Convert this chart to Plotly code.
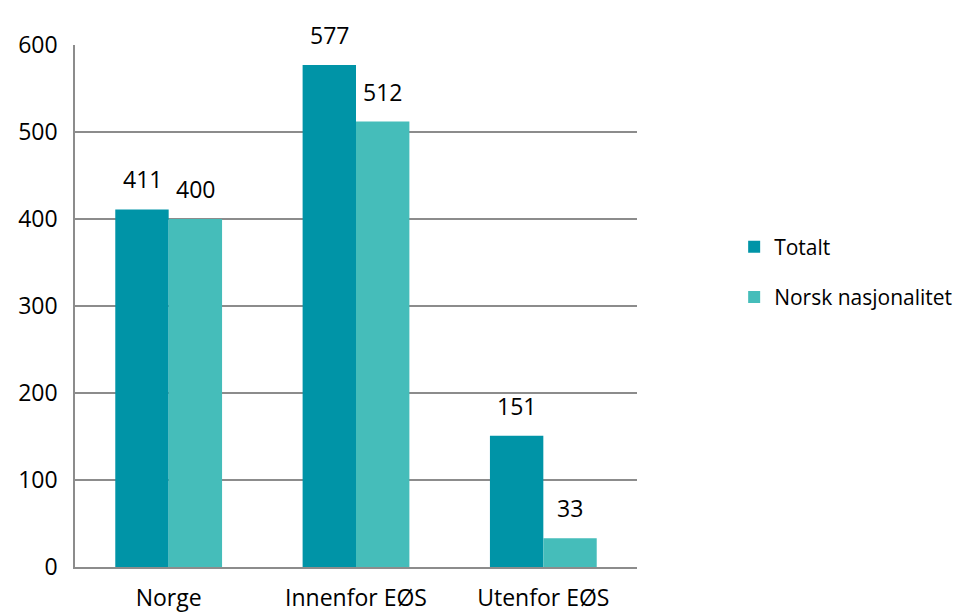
import plotly.graph_objects as go

categories = ["Norge", "Innenfor EØS", "Utenfor EØS"]
totalt = [411, 577, 151]
norsk = [400, 512, 33]
series_names = ["Totalt", "Norsk nasjonalitet"]
y_ticks = [0, 100, 200, 300, 400, 500, 600]

FONT = "'Open Sans', sans-serif"
c1 = "#0094A7"
c2 = "#45BDBA"
FS = 23

fig = go.Figure()
for i, (name, vals, col) in enumerate([(series_names[0], totalt, c1), (series_names[1], norsk, c2)]):
    fig.add_trace(go.Bar(
        x=categories, y=vals, name=name, marker_color=col, marker_line_width=0,
        legendgroup=f"g{i}",
    ))
    shift = -26.5 if i == 0 else 26.5
    for c, v in zip(categories, vals):
        fig.add_annotation(x=c, y=v, xref="x", yref="y", text=str(v),
                           showarrow=False, xshift=shift, yshift=12,
                           yanchor="bottom", font=dict(size=FS, color="#000000", family=FONT))

fig.update_layout(
    width=966, height=613,
    margin=dict(l=75, r=329, t=45, b=46, autoexpand=False),
    paper_bgcolor="white", plot_bgcolor="white",
    barmode="group", bargap=0.43, bargroupgap=0,
    font=dict(family=FONT, size=FS, color="#000000"),
    showlegend=True,
    legend=dict(xref="container", x=0.760, y=0.565, xanchor="left", yanchor="middle",
                font=dict(size=21), tracegroupgap=20, itemwidth=30,
                traceorder="grouped", bgcolor="rgba(0,0,0,0)"),
)
fig.update_yaxes(range=[0, 600], tickvals=y_ticks, showgrid=True,
                 gridcolor="#8C8C8C", gridwidth=1.5, showline=True,
                 linecolor="#8C8C8C", linewidth=1.5, zeroline=False,
                 ticks="", ticklabelstandoff=11, automargin=False)
fig.update_xaxes(showline=True, linecolor="#8C8C8C", linewidth=1.5,
                 ticks="", showgrid=False, ticklabelstandoff=10, automargin=False)

fig.write_html("out.html", config={"displayModeBar": False},
               post_script="document.body.style.margin='0';")
